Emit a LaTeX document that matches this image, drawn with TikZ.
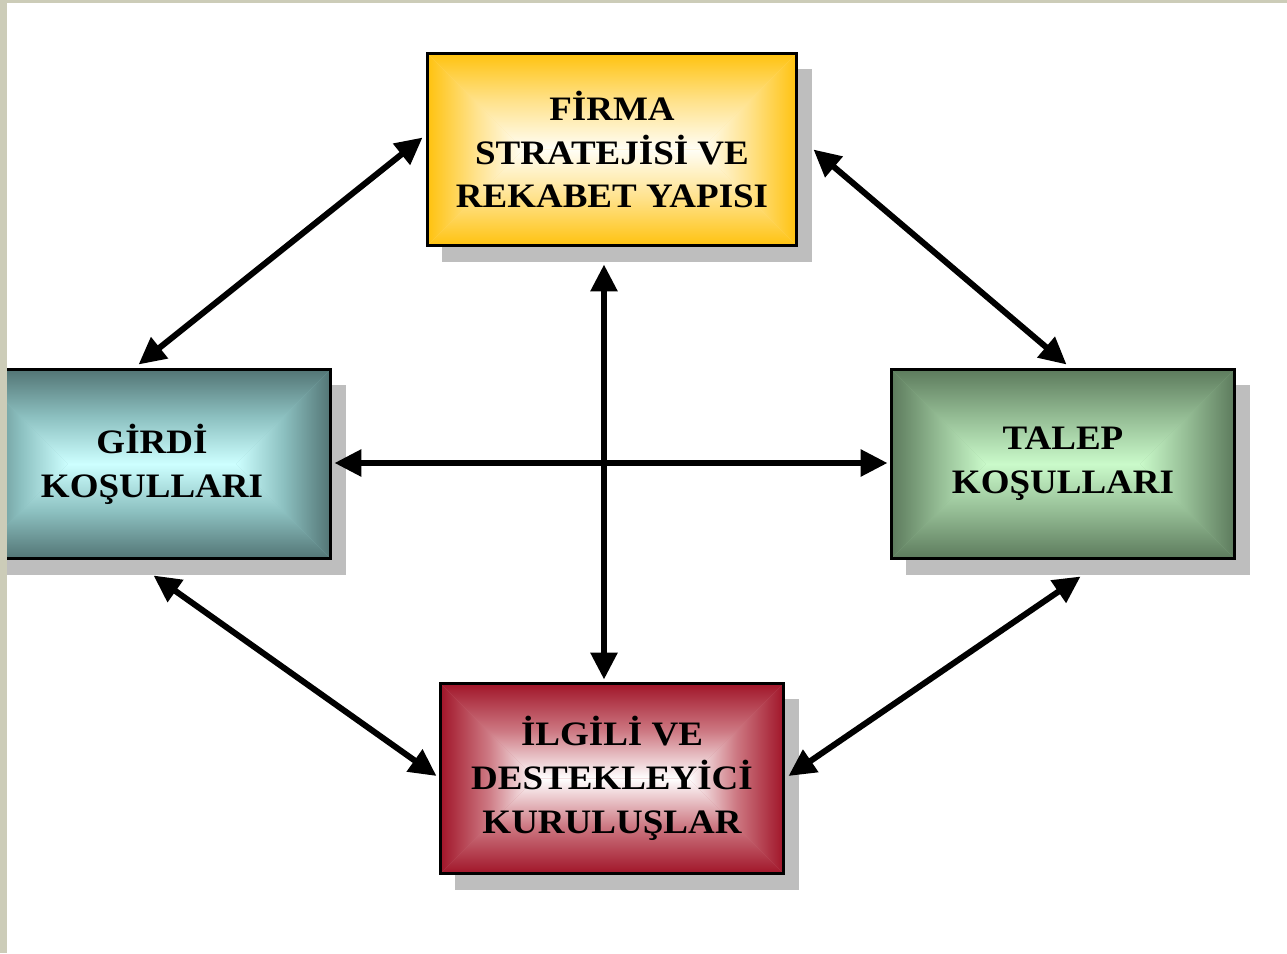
\documentclass[tikz,border=0pt]{standalone}
\usepackage{fontspec}
\setmainfont[FakeStretch=1.08]{Liberation Serif}
\usetikzlibrary{arrows.meta}
\usetikzlibrary{calc}
\usetikzlibrary{shadows}
\definecolor{frame beige}{RGB}{204,204,184}
\definecolor{shadow gray}{RGB}{190,190,190}
\definecolor{gold edge}{RGB}{255,194,14}
\definecolor{gold mid}{RGB}{255,226,140}
\definecolor{gold center}{RGB}{255,254,246}
\definecolor{teal edge}{RGB}{82,116,116}
\definecolor{teal mid}{RGB}{140,192,192}
\definecolor{teal center}{RGB}{205,255,255}
\definecolor{sage edge}{RGB}{92,122,92}
\definecolor{sage mid}{RGB}{148,188,148}
\definecolor{sage center}{RGB}{202,250,202}
\definecolor{wine edge}{RGB}{160,20,40}
\definecolor{wine mid}{RGB}{205,120,130}
\definecolor{wine center}{RGB}{255,255,255}
\colorlet{box edge}{black}
\colorlet{box mid}{gray}
\colorlet{box center}{white}
% one shading per side of a box, edge colour outside, centre colour inside
\pgfdeclareverticalshading[box edge,box mid,box center]{edge top}{100bp}{color(0bp)=(box center); color(25bp)=(box center); color(50bp)=(box mid); color(75bp)=(box edge); color(100bp)=(box edge)}
\pgfdeclareverticalshading[box edge,box mid,box center]{edge bottom}{100bp}{color(0bp)=(box edge); color(25bp)=(box edge); color(50bp)=(box mid); color(75bp)=(box center); color(100bp)=(box center)}
\pgfdeclarehorizontalshading[box edge,box mid,box center]{edge left}{100bp}{color(0bp)=(box edge); color(25bp)=(box edge); color(50bp)=(box mid); color(75bp)=(box center); color(100bp)=(box center)}
\pgfdeclarehorizontalshading[box edge,box mid,box center]{edge right}{100bp}{color(0bp)=(box center); color(25bp)=(box center); color(50bp)=(box mid); color(75bp)=(box edge); color(100bp)=(box edge)}

\begin{document}
\begin{tikzpicture}[
    x=0.02cm, y=-0.02cm,
    double arrow/.style={{Triangle[length=0.54cm,width=0.52cm]}-{Triangle[length=0.54cm,width=0.52cm]}, line width=0.12cm},
    box/.style n args={3}{draw=black, line width=0.06cm, fill=#2, align=center, inner sep=0pt,
        font=\fontsize{19.5}{25}\selectfont\bfseries,
        drop shadow={shadow xshift=0.3cm, shadow yshift=-0.32cm, fill=shadow gray, opacity=1},
        path picture={
            \colorlet{box edge}{#1}\colorlet{box mid}{#2}\colorlet{box center}{#3}
            \path let \p1=(path picture bounding box.north west), \p2=(path picture bounding box.south east), \n1={(\y1-\y2)/2} in
                coordinate (ridge west) at (\x1+\n1, \y2+\n1)
                coordinate (ridge east) at (\x2-\n1, \y2+\n1);
            \shade[shading=edge top] (path picture bounding box.north west) -- (path picture bounding box.north east) -- (ridge east) -- (ridge west) -- cycle;
            \shade[shading=edge bottom] (path picture bounding box.south west) -- (path picture bounding box.south east) -- (ridge east) -- (ridge west) -- cycle;
            \shade[shading=edge left] (path picture bounding box.north west) -- (path picture bounding box.south west) -- (ridge west) -- cycle;
            \shade[shading=edge right] (path picture bounding box.north east) -- (path picture bounding box.south east) -- (ridge east) -- cycle;
        }},
    ]

    % page
    \fill[white] (0,0) rectangle (1287,953);
    \useasboundingbox (0,0) rectangle (1287,953);

    % boxes
    \node[box={gold edge}{gold mid}{gold center}, minimum width=7.4cm, minimum height=3.86cm] (firma) at (612,149.5) {FİRMA\\STRATEJİSİ VE\\REKABET YAPISI};
    \node[box={teal edge}{teal mid}{teal center}, minimum width=7.16cm, minimum height=3.8cm] (girdi) at (152,464) {GİRDİ\\KOŞULLARI};
    \node[box={sage edge}{sage mid}{sage center}, minimum width=6.88cm, minimum height=3.8cm] (talep) at (1063,464) {TALEP\\KOŞULLARI};
    \node[box={wine edge}{wine mid}{wine center}, minimum width=6.88cm, minimum height=3.82cm] (ilgili) at (612,778.5) {İLGİLİ VE\\DESTEKLEYİCİ\\KURULUŞLAR};

    % arrows
    \draw[double arrow] ($(girdi.north west)+(167,-3)$) -- ($(firma.north west)+(-3,86)$);
    \draw[double arrow] ($(firma.north east)+(15,98)$) -- ($(talep.north west)+(177,-3)$);
    \draw[double arrow] ($(firma.south)+(-8,17)$) -- ($(ilgili.north)+(-8,-2)$);
    \draw[double arrow] ($(girdi.east)+(2,-1)$) -- ($(talep.west)+(-2,-1)$);
    \draw[double arrow] ($(girdi.south west)+(182,15)$) -- ($(ilgili.west)+(-2,-2.5)$);
    \draw[double arrow] ($(talep.south west)+(191,16)$) -- ($(ilgili.east)+(3,-2.5)$);

    % frame
    \fill[frame beige] (0,0) rectangle (1287,3);
    \fill[frame beige] (0,0) rectangle (7,953);

\end{tikzpicture}
\end{document}
